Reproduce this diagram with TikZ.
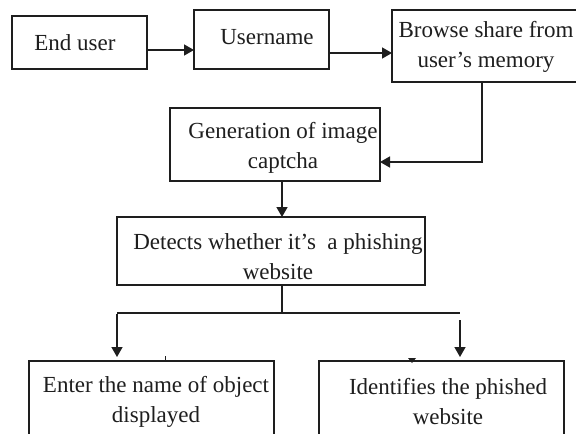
\documentclass[tikz,border=0pt]{standalone}
\usepackage{fontspec}
\setmainfont{Liberation Serif}
\usetikzlibrary{arrows.meta}
\definecolor{ink}{HTML}{1E1E1E}
\tikzset{
  box/.style={draw=ink, line width=1.4pt, fill=white, anchor=north west, inner sep=0pt, outer sep=0pt},
  lbl/.style={text=ink, align=center, inner sep=0pt, font=\fontsize{23}{30}\selectfont},
  link/.style={draw=ink, line width=1.4pt},
  arr/.style={link, -{Triangle[length=10pt,width=11pt]}},
}
\begin{document}
\begin{tikzpicture}[x=1pt,y=-1pt]
\useasboundingbox (0,0) rectangle (576,434);
\clip (0,0) rectangle (576,434);
\fill[white] (0,0) rectangle (576,434);

% boxes
\node[box, minimum width=135pt, minimum height=53pt] (b1) at (12,16) {};
\node[box, minimum width=135pt, minimum height=59pt] (b2) at (194,10) {};
\node[box, minimum width=198pt, minimum height=72pt] (b3) at (392,10) {};
\node[box, minimum width=210pt, minimum height=73pt] (b4) at (170,108) {};
\node[box, minimum width=308pt, minimum height=68pt] (b5) at (117,217) {};
\node[box, minimum width=245pt, minimum height=89pt] (b6) at (29,361) {};
\node[box, minimum width=245pt, minimum height=89pt] (b7) at (319,361) {};

% labels
\node[lbl] (t1) at (75,43) {End user};
\node[lbl] (t2) at (267,37) {Username};
\node[lbl] (t3) at (486,47) {Browse share from\\user’s memory};
\node[lbl] (t4) at (283,148) {Generation of image\\captcha};
\node[lbl] (t5) at (278,257) {Detects whether it’s \ a phishing\\website};
\node[lbl] (t6) at (156,402) {Enter the name of object\\displayed};
\node[lbl] (t7) at (448,402) {Identifies the phished\\website};

% connectors
\draw[arr] (b1.east |- 0,50) -- (b2.west |- 0,50);
\draw[arr] (b2.east |- 0,53) -- (b3.west |- 0,53);
\draw[arr] (b3.south -| 482,0) |- (b4.east |- 0,162);
\draw[arr] (b4.south -| 282,0) -- (b5.north -| 282,0);

\coordinate (jm) at (282,313);
\coordinate (jl) at (117,313);
\coordinate (jr) at (460,313);
\draw[link] (b5.south -| jm) -- (jm);
\draw[link] (jl) -- (jr);
\draw[arr, shorten >=4pt] ([yshift=-0.7pt]jl) -- (b6.north -| jl);
\draw[arr, shorten >=4pt] ([yshift=-7pt]jr) -- (b7.north -| jr);

% small marks above the lower boxes
\draw[link, line width=1pt] (165,356) -- (b6.north -| 165,0);
\fill[ink] (408,358) -- (416,358) -- (412,363) -- cycle;
\end{tikzpicture}
\end{document}
